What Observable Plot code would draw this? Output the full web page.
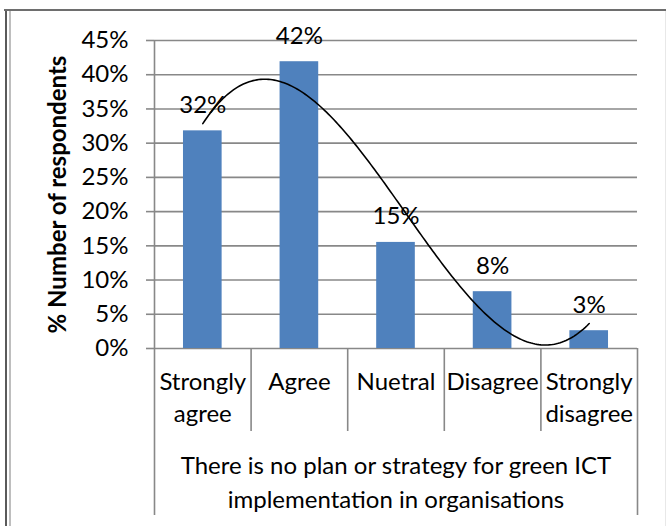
<!DOCTYPE html>
<html>
<head>
<meta charset="utf-8">
<script src="https://cdn.jsdelivr.net/npm/d3@7"></script>
<script src="https://cdn.jsdelivr.net/npm/@observablehq/plot@0.6"></script>
<style>
  html, body { margin: 0; padding: 0; background: white; }
</style>
</head>
<body>
<div id="wrap"></div>
<script>
// ---- data ----
const categories = ["Strongly agree", "Agree", "Nuetral", "Disagree", "Strongly disagree"];
const categoryLines = ["Strongly\nagree", "Agree", "Nuetral", "Disagree", "Strongly\ndisagree"];
const values = [0.318, 0.419, 0.155, 0.083, 0.026];
const valueLabels = ["32%", "42%", "15%", "8%", "3%"];
const yTicks = [0, 0.05, 0.10, 0.15, 0.20, 0.25, 0.30, 0.35, 0.40, 0.45];
const yLabel = "% Number of respondents";
const xTitle = "There is no plan or strategy for green ICT\nimplementation in organisations";

const data = categories.map((c, i) => ({cat: c, pos: i + 1, lines: categoryLines[i], value: values[i], label: valueLabels[i]}));

// cubic polynomial trendline (least squares fit of the bar values, as in the original)
function polyFit(xs, ys, order) {
  const n = order + 1;
  const A = Array.from({length: n}, () => new Array(n + 1).fill(0));
  for (let r = 0; r < n; r++) {
    for (let c = 0; c < n; c++) A[r][c] = d3.sum(xs, x => Math.pow(x, r + c));
    A[r][n] = d3.sum(xs.map((x, k) => Math.pow(x, r) * ys[k]));
  }
  for (let i = 0; i < n; i++) {
    let p = i;
    for (let k = i + 1; k < n; k++) if (Math.abs(A[k][i]) > Math.abs(A[p][i])) p = k;
    [A[i], A[p]] = [A[p], A[i]];
    for (let k = i + 1; k < n; k++) {
      const f = A[k][i] / A[i][i];
      for (let j = i; j <= n; j++) A[k][j] -= f * A[i][j];
    }
  }
  const coef = new Array(n).fill(0);
  for (let i = n - 1; i >= 0; i--) {
    let s = A[i][n];
    for (let j = i + 1; j < n; j++) s -= A[i][j] * coef[j];
    coef[i] = s / A[i][i];
  }
  return x => coef.reduce((acc, c, k) => acc + c * Math.pow(x, k), 0);
}
const positions = data.map(d => d.pos);
const fit = polyFit(positions, values, 3);
const trend = d3.range(1, 5.0001, 0.02).map(x => ({x, y: fit(x)}));

const grid = "#888888";
const font = "Lato, 'Open Sans', sans-serif";

const chart = Plot.plot({
  width: 666,
  height: 526,
  marginLeft: 154,
  marginRight: 29,
  marginTop: 40,
  marginBottom: 178,
  style: {fontFamily: font, fontSize: "24px", color: "black", background: "white", overflow: "visible"},
  x: {domain: [0.5, 5.5], axis: null},
  y: {domain: [0, 0.45], axis: null},
  marks: [
    // outer chart border (decorative)
    Plot.ruleX([0.5], {dx: -148.5, insetTop: -31, insetBottom: -178, stroke: "#5a5a5a", strokeWidth: 2}),
    Plot.ruleX([0.5], {dx: -144.5, insetTop: -30, insetBottom: -178, stroke: "#a8a8a8", strokeWidth: 1.5}),
    Plot.ruleX([5.5], {dx: 28, insetTop: -30, insetBottom: -178, stroke: "#e8e8e8", strokeWidth: 1}),
    Plot.ruleY([0.45], {dy: -30.5, insetLeft: -150, insetRight: -29, stroke: "#6e6e6e", strokeWidth: 2}),
    // gridlines and y axis
    Plot.ruleY(yTicks, {stroke: grid, strokeWidth: 1.6}),
    Plot.axisY({ticks: yTicks, tickSize: 8, tickPadding: 18, tickFormat: d3.format(".0%"), stroke: grid, strokeWidth: 1.6, fill: "black", fontSize: 24, label: null}),
    // bars
    Plot.rectY(data, {x1: d => d.pos - 0.2, x2: d => d.pos + 0.2, y: "value", fill: "#4F81BD"}),
    Plot.text(data, {x: "pos", y: "value", text: "label", lineAnchor: "bottom", dy: -18, fontSize: 24, fill: "black"}),
    // trendline
    Plot.line(trend, {x: "x", y: "y", stroke: "black", strokeWidth: 1.6}),
    // y axis line (extends down to the bottom of the label boxes)
    Plot.ruleX([0.5], {stroke: grid, strokeWidth: 1.6, insetBottom: -167}),
    // right edge of the label boxes
    Plot.ruleX([5.5], {y1: () => 0, y2: () => 0, stroke: grid, strokeWidth: 1.6, insetBottom: -167}),
    // separators between category labels
    Plot.ruleX([1.5, 2.5, 3.5, 4.5], {y1: () => 0, y2: () => 0, stroke: grid, strokeWidth: 1.6, insetBottom: -83}),
    // category labels
    Plot.text(data, {x: "pos", y: () => 0, text: "lines", lineAnchor: "top", dy: 18, lineHeight: 1.36, fontSize: 24, fill: "black"}),
    // x axis title
    Plot.text([xTitle], {x: () => 3, y: () => 0, text: d => d, lineAnchor: "top", dy: 102, lineHeight: 1.4, fontSize: 24, fill: "black"}),
    // y axis title
    Plot.text([yLabel], {frameAnchor: "left", textAnchor: "middle", text: d => d, rotate: -90, dx: -96, fontWeight: "bold", fontSize: 24, fill: "black"})
  ]
});

document.getElementById("wrap").appendChild(chart);
</script>
</body>
</html>
